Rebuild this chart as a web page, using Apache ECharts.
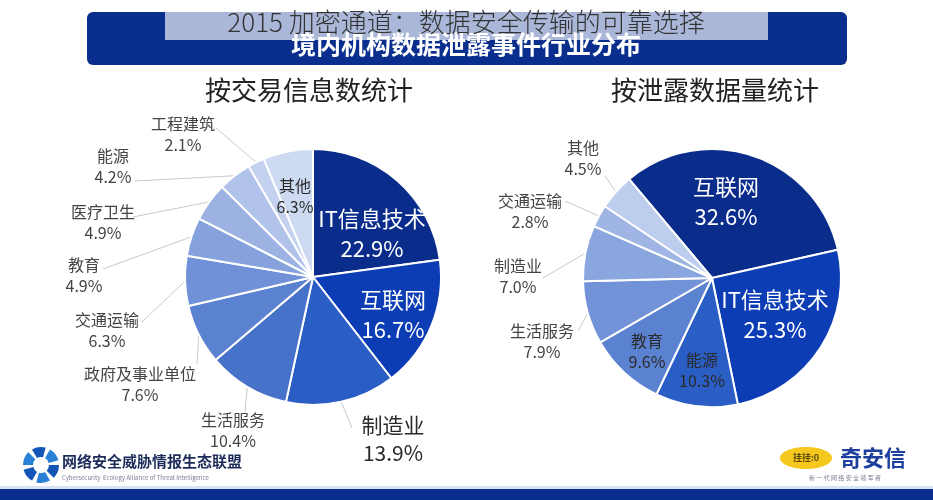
<!DOCTYPE html>
<html>
<head>
<meta charset="utf-8">
<script src="https://cdn.jsdelivr.net/npm/echarts@6/dist/echarts.min.js"></script>
<style>
html,body{margin:0;padding:0;background:#fff;}
#main{width:933px;height:500px;}
</style>
</head>
<body>
<div id="main"></div>
<script>
// ---- data ----
const leftNames = ['IT信息技术','互联网','制造业','生活服务','政府及事业单位','交通运输','教育','医疗卫生','能源','工程建筑','其他'];
const leftValues = [22.9, 16.7, 13.9, 10.4, 7.6, 6.3, 4.9, 4.9, 4.2, 2.1, 6.3];
const rightNames = ['互联网','IT信息技术','能源','教育','生活服务','制造业','交通运输','其他'];
const rightValues = [32.6, 25.3, 10.3, 9.6, 7.9, 7.0, 2.8, 4.5];

// ---- styles ----
const leftColors = ['#0a2d8c','#0c3db5','#2b5ec5','#4772ca','#5b81d1','#7091d7','#86a2dd','#9bb2e3','#b1c3ea','#c4d2ef','#cddaf2'];
const rightColors = ['#0a2d8c','#0c3db5','#2b5ec5','#5b81d1','#7393d8','#8aa6de','#9fb5e4','#bccdee'];

const leftLayout = {
  'IT信息技术': {kind:'bigIn', x:372, y:234},
  '互联网': {kind:'bigIn', x:393, y:315},
  '其他': {kind:'smallIn', x:295, y:196},
  '制造业': {kind:'bigOut', x:393, y:439, line:[352,428]},
  '生活服务': {kind:'out', x:233, y:430, line:[245,412]},
  '政府及事业单位': {kind:'out', x:140, y:384, line:[197,364]},
  '交通运输': {kind:'out', x:107, y:330, line:[142,322]},
  '教育': {kind:'out', x:84, y:275, line:[103,269]},
  '医疗卫生': {kind:'out', x:103, y:222, line:[133,217]},
  '能源': {kind:'out', x:113, y:166, line:[135,181]},
  '工程建筑': {kind:'out', x:183, y:134, line:[216,128]}
};
const rightLayout = {
  '互联网': {kind:'bigIn', x:726, y:202},
  'IT信息技术': {kind:'bigIn', x:775, y:315},
  '能源': {kind:'smallIn', x:702, y:370},
  '教育': {kind:'smallIn', x:647, y:351},
  '生活服务': {kind:'out', x:542, y:341, line:[578,331]},
  '制造业': {kind:'out', x:518, y:276, line:[543,278]},
  '交通运输': {kind:'out', x:530, y:211, line:[565,201]},
  '其他': {kind:'out', x:583, y:158, line:[605,176]}
};
const kinds = {
  bigIn: {color:'#ffffff', fontSize:22, lineHeight:30},
  smallIn: {color:'#2a2a2a', fontSize:16, lineHeight:21},
  out: {color:'#444444', fontSize:16, lineHeight:21},
  bigOut: {color:'#2a2a2a', fontSize:21, lineHeight:28}
};
const FONT = '"Noto Sans CJK SC", "Noto Sans", sans-serif';

function buildData(names, values, colors, layout) {
  return names.map((n, i) => {
    const cfg = layout[n];
    const k = kinds[cfg.kind];
    const outside = !!cfg.line;
    return {
      name: n,
      value: values[i],
      itemStyle: {color: colors[i]},
      label: {
        show: true,
        position: outside ? 'outside' : 'inside',
        color: k.color, fontSize: k.fontSize, lineHeight: k.lineHeight,
        fontFamily: FONT
      },
      labelLine: {show: outside, lineStyle: {color: '#c9c9c9', width: 1}}
    };
  });
}

function makeLayoutFn(names, layout) {
  return function (params) {
    const cfg = layout[names[params.dataIndex]];
    const res = {x: cfg.x, y: cfg.y, align: 'center', verticalAlign: 'middle'};
    if (cfg.line && params.labelLinePoints && params.labelLinePoints.length) {
      const p0 = params.labelLinePoints[0];
      res.labelLinePoints = [[p0[0], p0[1]], cfg.line, cfg.line];
    }
    return res;
  };
}

const fmt = p => p.name + '\n' + Number(p.value).toFixed(1) + '%';

const chart = echarts.init(document.getElementById('main'), null, {renderer: 'canvas'});

const option = {
  backgroundColor: '#ffffff',
  animation: false,
  series: [
    {
      type: 'pie', center: [313, 277], radius: 128, startAngle: 90, clockwise: true,
      avoidLabelOverlap: false,
      itemStyle: {borderColor: '#ffffff', borderWidth: 2},
      label: {formatter: fmt},
      labelLine: {length: 10, length2: 10},
      labelLayout: makeLayoutFn(leftNames, leftLayout),
      data: buildData(leftNames, leftValues, leftColors, leftLayout),
      z: 2
    },
    {
      type: 'pie', center: [712, 278], radius: 129, startAngle: 130, clockwise: true,
      avoidLabelOverlap: false,
      itemStyle: {borderColor: '#ffffff', borderWidth: 2},
      label: {formatter: fmt},
      labelLine: {length: 10, length2: 10},
      labelLayout: makeLayoutFn(rightNames, rightLayout),
      data: buildData(rightNames, rightValues, rightColors, rightLayout),
      z: 2
    }
  ],
  graphic: [
    // top banner
    {type:'rect', shape:{x:87, y:12, width:760, height:53, r:6}, style:{fill:'#0a2e8d'}, z:1},
    {type:'text', x:466, y:44, style:{text:'境内机构数据泄露事件行业分布', fill:'#ffffff', font:'bold 25px ' + FONT, textAlign:'center', textVerticalAlign:'middle'}, z:2},
    {type:'rect', shape:{x:165, y:12, width:603, height:28}, style:{fill:'rgba(255,255,255,0.66)'}, z:3},
    {type:'text', x:466, y:22, style:{text:'2015 加密通道：数据安全传输的可靠选择', fill:'#333333', font:'300 26px ' + FONT, textAlign:'center', textVerticalAlign:'middle'}, z:4},
    // sub titles
    {type:'text', x:309, y:90, style:{text:'按交易信息数统计', fill:'#222222', font:'normal 26px ' + FONT, textAlign:'center', textVerticalAlign:'middle'}},
    {type:'text', x:715, y:90, style:{text:'按泄露数据量统计', fill:'#222222', font:'normal 26px ' + FONT, textAlign:'center', textVerticalAlign:'middle'}},
    // bottom band
    {type:'rect', shape:{x:0, y:489, width:933, height:11}, style:{fill:'#0a2e8d'}},
    {type:'rect', shape:{x:0, y:486, width:933, height:3}, style:{fill:'#d9e2f2'}},
    // left logo (swirl)
    {type:'group', x:41, y:465, children: [0,1,2,3,4,5].map(i => ({
      type:'sector',
      shape:{cx:0, cy:0, r0:8, r:18, startAngle: i*Math.PI/3, endAngle: i*Math.PI/3 + Math.PI/4},
      style:{fill: i % 2 ? '#2a7fd6' : '#1456b8'}
    }))},
    {type:'text', x:62, y:461, style:{text:'网络安全威胁情报生态联盟', fill:'#1c2b5a', font:'bold 15px ' + FONT, textVerticalAlign:'middle'}},
    {type:'text', x:62, y:478, style:{text:'Cybersecurity  Ecology Alliance of Threat Intelligence', fill:'#7a7f90', font:'6px ' + FONT, textVerticalAlign:'middle'}},
    // right logo
    {type:'ellipse', shape:{cx:806, cy:458, rx:26, ry:11}, style:{fill:'#f6c81e'}},
    {type:'text', x:806, y:458, style:{text:'挂挂:0', fill:'#5a4a10', font:'bold 9px ' + FONT, textAlign:'center', textVerticalAlign:'middle'}},
    {type:'text', x:873, y:458, style:{text:'奇安信', fill:'#1d3f9e', font:'bold 22px ' + FONT, textAlign:'center', textVerticalAlign:'middle'}},
    {type:'text', x:845, y:478, style:{text:'新 一 代 网 络 安 全 领 军 者', fill:'#7a7f90', font:'6px ' + FONT, textAlign:'center', textVerticalAlign:'middle'}}
  ]
};
chart.setOption(option);
</script>
</body>
</html>
